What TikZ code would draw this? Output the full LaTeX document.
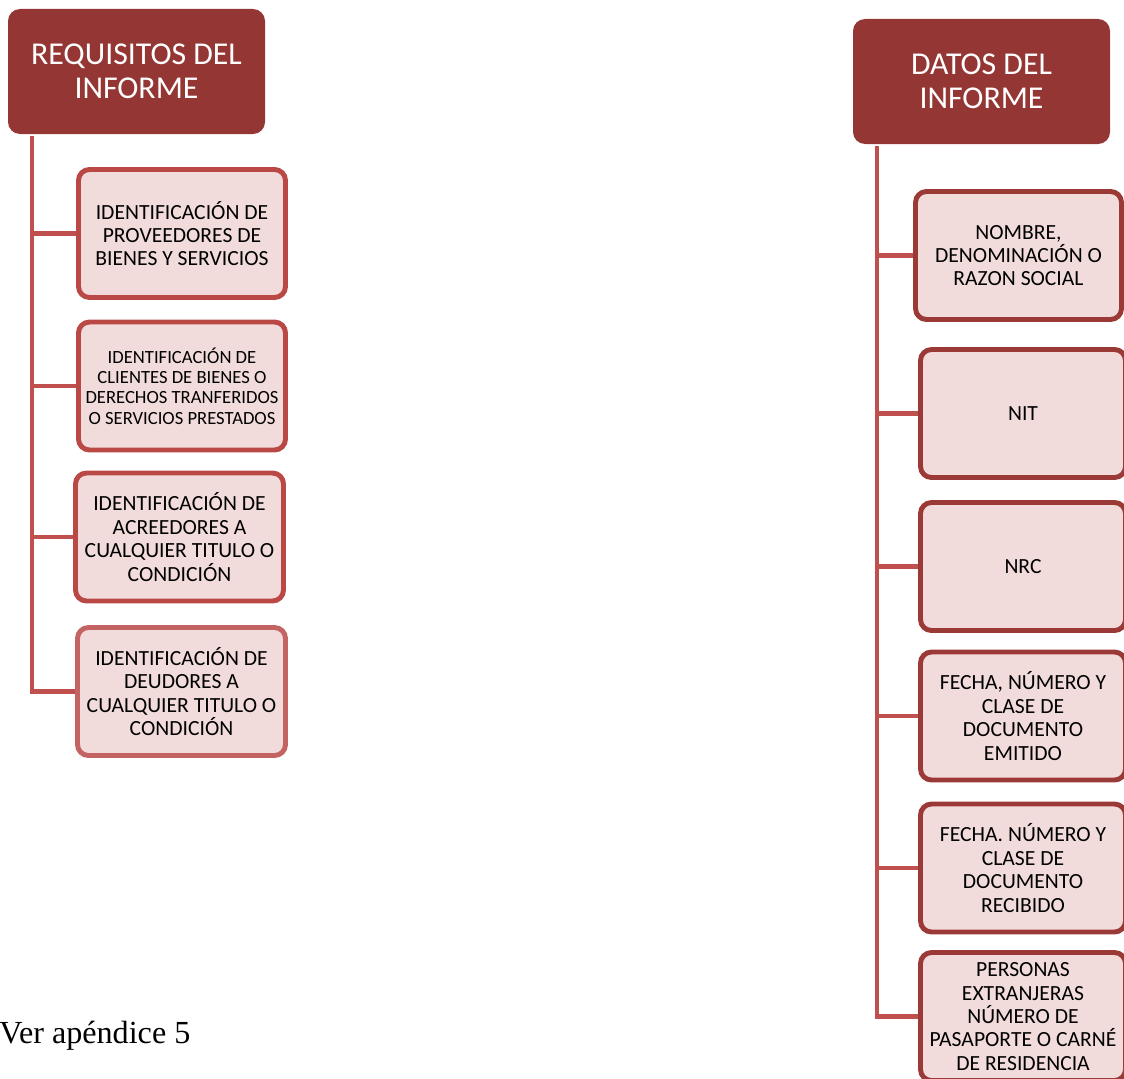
\documentclass[tikz,border=0pt]{standalone}
\usepackage{fontspec}
\setmainfont{Carlito}
\newfontfamily\timesfont{Liberation Serif}
\usetikzlibrary{positioning,backgrounds}
\definecolor{hdrred}{HTML}{943634}
\definecolor{trunkred}{HTML}{C0504D}
\definecolor{boxfill}{HTML}{F2DCDB}
\definecolor{edgeleft}{HTML}{BA4946}
\definecolor{edgeright}{HTML}{9A3936}
\def\px{0.02cm}

\begin{document}
\begin{tikzpicture}[
    x=0.02cm, y=-0.02cm,
    header/.style={rectangle, rounded corners=0.24cm, fill=hdrred, text=white,
                   align=center, minimum width=257*\px, minimum height=125*\px,
                   font=\fontsize{18.1}{19.3}\selectfont},
    item/.style={rectangle, rounded corners=0.22cm, fill=boxfill, line width=2.8pt,
                 align=center, minimum height=128*\px, inner sep=2pt,
                 font=\fontsize{12.3}{13.3}\selectfont},
    leftitem/.style={item, draw=edgeleft, minimum width=207*\px},
    rightitem/.style={item, draw=edgeright, minimum width=205*\px},
    trunk/.style={draw=trunkred, line width=2.3pt},
]
\clip (0,0) rectangle (1124,1078);

% ── Left column: requisitos ──
\node[header] (reqH) at (136.5,71.5) {REQUISITOS DEL\\INFORME};
\node[leftitem] (reqA) at (182,233.5) {IDENTIFICACIÓN DE\\PROVEEDORES DE\\BIENES Y SERVICIOS};
\node[leftitem, font=\fontsize{10.6}{11.5}\selectfont] (reqB) at (182,386)
    {IDENTIFICACIÓN DE\\CLIENTES DE BIENES O\\DERECHOS TRANFERIDOS\\O SERVICIOS PRESTADOS};
\node[leftitem, minimum width=208*\px] (reqC) at (179.5,537)
    {IDENTIFICACIÓN DE\\ACREEDORES A\\CUALQUIER TITULO O\\CONDICIÓN};
\node[leftitem, minimum width=208*\px, draw=edgeleft!85] (reqD) at (181.5,691.5)
    {IDENTIFICACIÓN DE\\DEUDORES A\\CUALQUIER TITULO O\\CONDICIÓN};
\coordinate (tL) at (32,136);

% ── Right column: datos ──
\node[header] (datH) at (981.5,81.5) {DATOS DEL\\INFORME};
\node[rightitem, minimum width=206*\px] (datA) at (1018.5,255.5)
    {NOMBRE,\\DENOMINACIÓN O\\RAZON SOCIAL};
\node[rightitem] (datB) at (1023,413.5) {NIT};
\node[rightitem] (datC) at (1023,566.5) {NRC};
\node[rightitem] (datD) at (1023,716) {FECHA, NÚMERO Y\\CLASE DE\\DOCUMENTO\\EMITIDO};
\node[rightitem] (datE) at (1023,868) {FECHA. NÚMERO Y\\CLASE DE\\DOCUMENTO\\RECIBIDO};
\node[rightitem, text depth=0pt] (datF) at (1023,1016.5)
    {PERSONAS\\EXTRANJERAS\\NÚMERO DE\\PASAPORTE O CARNÉ\\DE RESIDENCIA};
\coordinate (tR) at (877,146);

% connectors
\begin{scope}[on background layer]
    \foreach \n in {reqA,reqB,reqC}
        \draw[trunk] (tL |- \n.west) -- (\n.west);
    \draw[trunk] (tL) |- (reqD.west);
    \foreach \n in {datA,datB,datC,datD,datE}
        \draw[trunk] (tR |- \n.west) -- (\n.west);
    \draw[trunk] (tR) |- (datF.west);
\end{scope}

\node[anchor=base west, inner sep=0pt, font=\timesfont\fontsize{18.3}{21}\selectfont]
    (note) at (-1,1043) {Ver apéndice 5};
\end{tikzpicture}
\end{document}
